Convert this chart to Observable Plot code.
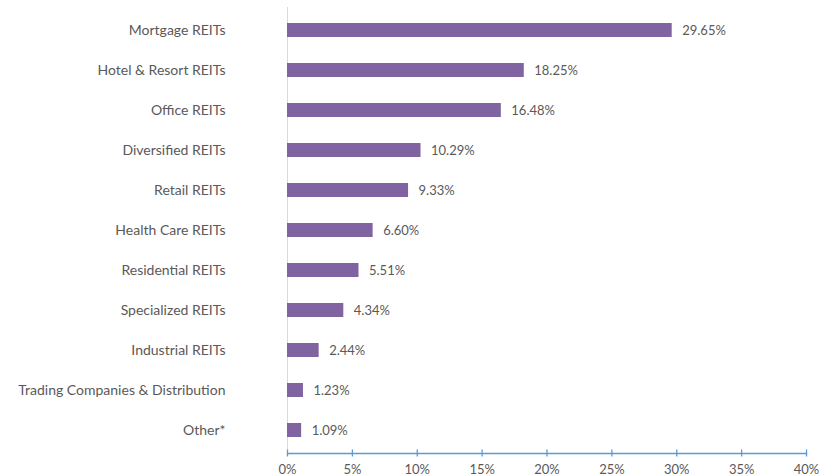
<!DOCTYPE html>
<html>
<head>
<meta charset="utf-8">
<script src="https://cdn.jsdelivr.net/npm/d3@7"></script>
<script src="https://cdn.jsdelivr.net/npm/@observablehq/plot@0.6"></script>
<style>
  html, body { margin: 0; padding: 0; background: #fff; }
  #chart svg { display: block; }
</style>
</head>
<body>
<div id="chart"></div>
<script>
const categories = [
  "Mortgage REITs",
  "Hotel & Resort REITs",
  "Office REITs",
  "Diversified REITs",
  "Retail REITs",
  "Health Care REITs",
  "Residential REITs",
  "Specialized REITs",
  "Industrial REITs",
  "Trading Companies & Distribution",
  "Other*"
];
const values = [29.65, 18.25, 16.48, 10.29, 9.33, 6.60, 5.51, 4.34, 2.44, 1.23, 1.09];
const xTicks = [0, 5, 10, 15, 20, 25, 30, 35, 40];

const data = categories.map((c, i) => ({category: c, value: values[i]}));

const textColor = "#595959";
const font = "Lato, 'Open Sans', sans-serif";

const chart = Plot.plot({
  width: 819,
  height: 476,
  marginTop: 7,
  marginBottom: 23,
  marginLeft: 287,
  marginRight: 13,
  style: {fontFamily: font, fontSize: "13px", color: textColor, background: "#fff"},
  x: {domain: [0, 40], ticks: xTicks, label: null},
  y: {domain: categories, paddingInner: 0.655, paddingOuter: 0.3275, label: null},
  marks: [
    Plot.frame({anchor: "left", stroke: "#d9d9d9", strokeWidth: 1}),
    Plot.barX(data, {x: "value", y: "category", fill: "#8064A2"}),
    Plot.text(data, {x: "value", y: "category", text: d => d.value.toFixed(2) + "%", textAnchor: "start", dx: 10, fill: textColor, fontSize: 13}),
    Plot.frame({anchor: "bottom", stroke: "#5B9BD5", strokeWidth: 1.3}),
    Plot.axisX({ticks: xTicks, tickFormat: d => d + "%", tickSize: 7, dy: -3.5, tickPadding: 8, stroke: "#5B9BD5", strokeWidth: 1.3, fill: textColor, fontSize: 13, label: null}),
    Plot.axisY({tickSize: 0, tickPadding: 62, fill: textColor, fontSize: 14, label: null})
  ]
});
document.getElementById("chart").appendChild(chart);
</script>
</body>
</html>
